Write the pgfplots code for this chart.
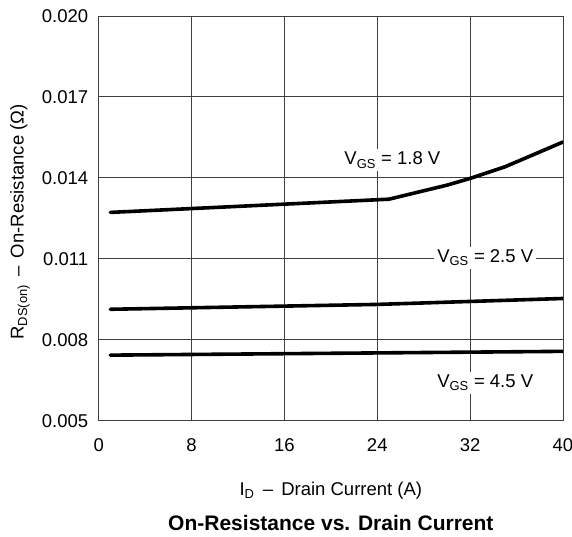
\documentclass[border=0pt]{standalone}
\usepackage{fontspec}
\setmainfont{Liberation Sans}
\usepackage{pgfplots}
\pgfplotsset{compat=1.18}
\begin{document}
\begin{tikzpicture}[x=1pt,y=1pt]
\begin{axis}[
 scale only axis, width=464.3pt, height=404.7pt,
 at={(0,0)}, anchor=south west,
 xmin=0,xmax=40,ymin=0.005,ymax=0.020,
 xtick={0,8,16,24,32,40}, ytick={0.005,0.008,0.011,0.014,0.017,0.020},
 scaled y ticks=false,
 yticklabel style={/pgf/number format/fixed,/pgf/number format/fixed zerofill,/pgf/number format/precision=3, xshift=-7pt},
 /pgf/number format/assume math mode=true,
 ticklabel style={font=\fontsize{18.5}{20}\selectfont},
 xticklabel style={yshift=-14pt},
 grid=major, major grid style={line width=0.9pt, color=black!75},
 axis line style={line width=0.9pt, black!75},
 tick style={draw=none},
]
\addplot[black, line width=3.6pt, line join=round, line cap=round] coordinates {
(1,0.01272) (25,0.01321) (30,0.01373) (32,0.01398) (35,0.01441) (40,0.01533)};
\addplot[black, line width=3.6pt, line cap=round] coordinates {
(1,0.00913) (24,0.00931) (40,0.00953)};
\addplot[black, line width=3.6pt, line cap=round] coordinates {
(1,0.00743) (40,0.00757)};
\node[fill=white, inner sep=3pt, font=\fontsize{18.5}{20}\selectfont] at (axis cs:25.3,0.01466) {V\textsubscript{GS} = 1.8 V};
\node[fill=white, inner sep=3pt, font=\fontsize{18.5}{20}\selectfont] at (axis cs:33.3,0.01103) {V\textsubscript{GS} = 2.5 V};
\node[fill=white, inner sep=3pt, font=\fontsize{18.5}{20}\selectfont] at (axis cs:33.3,0.0064) {V\textsubscript{GS} = 4.5 V};
\end{axis}
\node[font=\fontsize{18.5}{20}\selectfont] at (232.15,-70.3) {I\textsubscript{D} \,–\, Drain Current (A)};
\node[font=\fontsize{21}{24}\selectfont\bfseries] at (232.15,-102.3) {On-Resistance vs. Drain Current};
\node[rotate=90, font=\fontsize{18.5}{20}\selectfont] at (-78.7,198.7) {R\textsubscript{DS(on)} \,–\, On-Resistance (Ω)};
\pgfresetboundingbox
\path (-98.7,-115.3) rectangle (473.3,420.7);
\end{tikzpicture}
\end{document}
